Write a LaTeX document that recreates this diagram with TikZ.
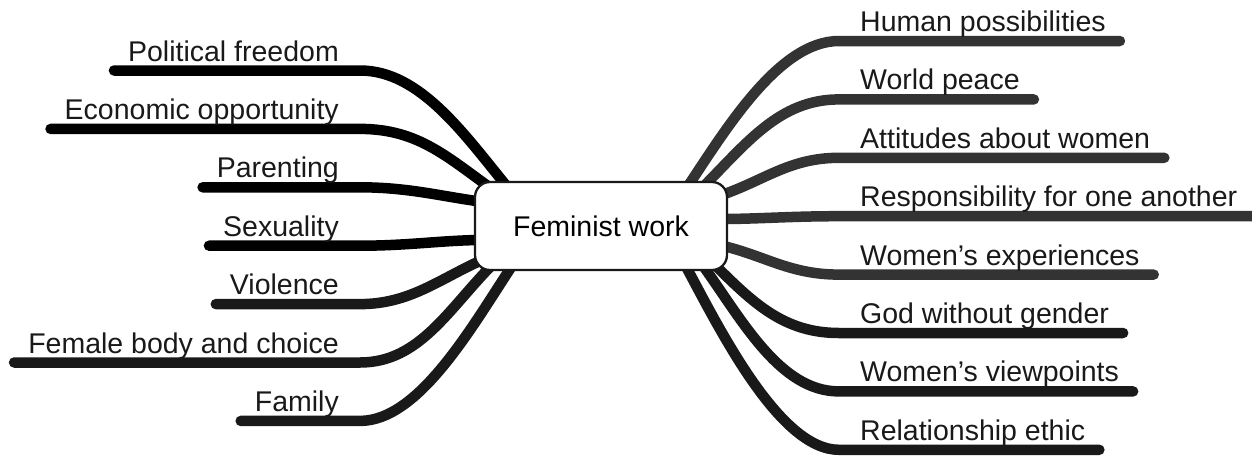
\documentclass[tikz,border=0pt]{standalone}
\usepackage{fontspec}
\setmainfont{Liberation Sans}
\usetikzlibrary{calc,backgrounds}

\begin{document}
\begin{tikzpicture}[
    x=1pt, y=-1pt,
    hub/.style={rectangle, draw=black!90, line width=2.3pt, rounded corners=15pt, fill=white, minimum width=252pt, minimum height=88pt, font=\fontsize{28.5}{34}\selectfont},
    leaf/.style={inner sep=0pt, font=\fontsize{28.5}{34}\selectfont, text=black!90},
    branch/.style={line width=10.5pt, line cap=round},
    inkL/.style={branch, draw=black},
    inkM/.style={branch, draw=black!90},
    inkR/.style={branch, draw=black!80}
]
\useasboundingbox (0,0) rectangle (1252,456);

\node[hub] (root) at (601,226) {Feminist work};

% left side
\node[leaf, anchor=base east] (pol) at (339,61) {Political freedom};
\node[leaf, anchor=base east] (eco) at (339,119.4) {Economic opportunity};
\node[leaf, anchor=base east] (par) at (339,177.8) {Parenting};
\node[leaf, anchor=base east] (sex) at (339,236.2) {Sexuality};
\node[leaf, anchor=base east] (vio) at (339,294.6) {Violence};
\node[leaf, anchor=base east] (fem) at (339,353) {Female body and choice};
\node[leaf, anchor=base east] (fam) at (339,411.4) {Family};

% right side
\node[leaf, anchor=base west] (hum) at (860,31.5) {Human possibilities};
\node[leaf, anchor=base west] (pea) at (860,89.9) {World peace};
\node[leaf, anchor=base west] (att) at (860,148.3) {Attitudes about women};
\node[leaf, anchor=base west] (res) at (860,206.7) {Responsibility for one another};
\node[leaf, anchor=base west] (exp) at (860,265.1) {Women’s experiences};
\node[leaf, anchor=base west] (god) at (860,323.5) {God without gender};
\node[leaf, anchor=base west] (vie) at (860,381.9) {Women’s viewpoints};
\node[leaf, anchor=base west] (rel) at (860,440.3) {Relationship ethic};

\begin{scope}[on background layer]
\draw[inkL] ($(pol.base west)+(-14,9.5)$) -- ($(pol.base east)+(21,9.5)$) .. controls +(60,0) and +(-45,-55) .. ($(root.north west)+(35,8)$);
\draw[inkL] ($(eco.base west)+(-14,9.5)$) -- ($(eco.base east)+(21,9.5)$) .. controls +(60,0) and +(-50,-35) .. ($(root.north west)+(25,13)$);
\draw[inkL] ($(par.base west)+(-14,9.5)$) -- ($(par.base east)+(21,9.5)$) .. controls +(50,0) and +(-40,-5) .. ($(root.west)+(10,-24)$);
\draw[inkL] ($(sex.base west)+(-14,9.5)$) -- ($(sex.base east)+(21,9.5)$) .. controls +(50,0) and +(-40,0) .. ($(root.west)+(10,14)$);
\draw[inkM] ($(vio.base west)+(-14,9.5)$) -- ($(vio.base east)+(21,9.5)$) .. controls +(50,0) and +(-45,20) .. ($(root.south west)+(10,-12)$);
\draw[inkM] ($(fem.base west)+(-14,9.5)$) -- ($(fem.base east)+(21,9.5)$) .. controls +(60,0) and +(-45,45) .. ($(root.south west)+(20,-8)$);
\draw[inkM] ($(fam.base west)+(-14,9.5)$) -- ($(fam.base east)+(21,9.5)$) .. controls +(60,0) and +(-40,60) .. ($(root.south west)+(40,-8)$);

\draw[inkR] ($(hum.base east)+(14,9.5)$) -- ($(hum.base west)+(-21,9.5)$) .. controls +(-60,0) and +(40,-60) .. ($(root.north east)+(-42,8)$);
\draw[inkR] ($(pea.base east)+(14,9.5)$) -- ($(pea.base west)+(-21,9.5)$) .. controls +(-60,0) and +(45,-45) .. ($(root.north east)+(-27,8)$);
\draw[inkR] ($(att.base east)+(14,9.5)$) -- ($(att.base west)+(-21,9.5)$) .. controls +(-50,0) and +(45,-15) .. ($(root.north east)+(-9,15)$);
\draw[inkR] ($(res.base east)+(14,9.5)$) -- ($(res.base west)+(-21,9.5)$) .. controls +(-50,0) and +(40,0) .. ($(root.east)+(-9,-7)$);
\draw[inkR] ($(exp.base east)+(14,9.5)$) -- ($(exp.base west)+(-21,9.5)$) .. controls +(-50,0) and +(45,10) .. ($(root.east)+(-9,19)$);
\draw[inkM] ($(god.base east)+(14,9.5)$) -- ($(god.base west)+(-21,9.5)$) .. controls +(-55,0) and +(40,40) .. ($(root.south east)+(-15,-8)$);
\draw[inkM] ($(vie.base east)+(14,9.5)$) -- ($(vie.base west)+(-21,9.5)$) .. controls +(-60,0) and +(40,55) .. ($(root.south east)+(-27,-8)$);
\draw[inkM] ($(rel.base east)+(14,9.5)$) -- ($(rel.base west)+(-21,9.5)$) .. controls +(-60,0) and +(35,65) .. ($(root.south east)+(-44,-8)$);
\end{scope}

\end{tikzpicture}
\end{document}
